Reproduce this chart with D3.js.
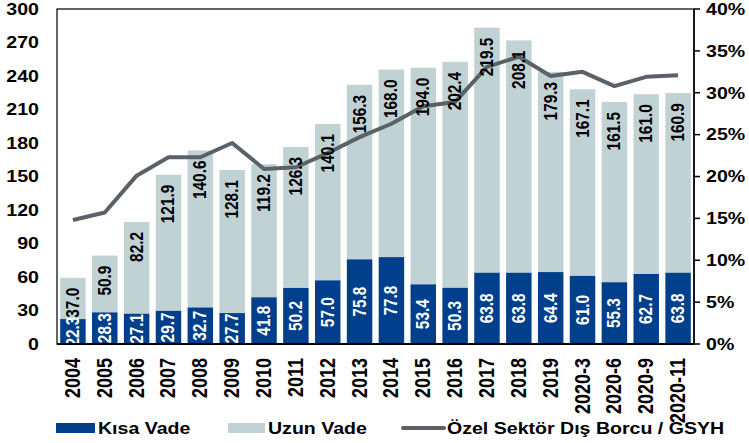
<!DOCTYPE html>
<html>
<head>
<meta charset="utf-8">
<script src="https://cdn.jsdelivr.net/npm/d3@7"></script>
<style>
  body { margin: 0; background: #fff; }
  text { font-family: Arial, "Liberation Sans", sans-serif; font-weight: bold; }
</style>
</head>
<body>
<svg id="chart"></svg>
<script>
let categories = ['2004', '2005', '2006', '2007', '2008', '2009', '2010', '2011', '2012', '2013',
    '2014', '2015', '2016', '2017', '2018', '2019', '2020-3', '2020-6', '2020-9', '2020-11']
let kisaVade = [22.3, 28.3, 27.1, 29.7, 32.7, 27.7, 41.8, 50.2, 57.0, 75.8,
    77.8, 53.4, 50.3, 63.8, 63.8, 64.4, 61.0, 55.3, 62.7, 63.8]
let uzunVade = [37.0, 50.9, 82.2, 121.9, 140.6, 128.1, 119.2, 126.3, 140.1, 156.3,
    168.0, 194.0, 202.4, 219.5, 208.1, 179.3, 167.1, 161.5, 161.0, 160.9]
let borcGsyh = [14.8, 15.7, 20.1, 22.3, 22.3, 24.0, 20.9, 21.1, 22.8, 24.7,
    26.3, 28.4, 28.9, 33.1, 34.3, 32.0, 32.5, 30.8, 31.9, 32.1]
let leftTicks = [0, 30, 60, 90, 120, 150, 180, 210, 240, 270, 300]
let rightTicks = [0, 0.05, 0.10, 0.15, 0.20, 0.25, 0.30, 0.35, 0.40]
let legendNames = ['Kısa Vade', 'Uzun Vade', 'Özel Sektör Dış Borcu / GSYH']

let width = 749,
    height = 443,
    plotLeft = 57,
    plotRight = 694,
    plotTop = 9,
    plotBottom = 344,
    stretch = 1.2

let colorKisa = '#003f8c',
    colorUzun = '#c1d2d4',
    colorLine = '#5b6168'

let $svg = d3.select('#chart')
    .attr('width', width)
    .attr('height', height)

let xScale = d3.scaleBand()
    .domain(categories)
    .range([plotLeft, plotRight])
    .paddingInner(0.2)
    .paddingOuter(0.1)

let yScale = d3.scaleLinear()
    .domain([0, 300])
    .range([plotBottom, plotTop])

let pScale = d3.scaleLinear()
    .domain([0, 0.40])
    .range([plotBottom, plotTop])

let data = categories.map((c, i) => {
    return {cat: c, kisa: kisaVade[i], uzun: uzunVade[i], pct: borcGsyh[i] / 100}
})

// frame
$svg.append('rect')
    .attr('x', plotLeft)
    .attr('y', plotTop)
    .attr('width', plotRight - plotLeft)
    .attr('height', plotBottom - plotTop)
    .attr('fill', 'none')
    .attr('stroke', '#000')
    .attr('stroke-width', 1.2)

// bars
let bw = xScale.bandwidth()
let $bars = $svg.append('g')
$bars.selectAll('rect.uzun').data(data).enter().append('rect')
    .attr('class', 'uzun')
    .attr('x', d => xScale(d.cat))
    .attr('y', d => yScale(d.kisa + d.uzun))
    .attr('width', bw)
    .attr('height', d => yScale(d.kisa) - yScale(d.kisa + d.uzun))
    .attr('fill', colorUzun)
$bars.selectAll('rect.kisa').data(data).enter().append('rect')
    .attr('class', 'kisa')
    .attr('x', d => xScale(d.cat))
    .attr('y', d => yScale(d.kisa))
    .attr('width', bw)
    .attr('height', d => yScale(0) - yScale(d.kisa))
    .attr('fill', colorKisa)

// line
let line = d3.line()
    .x(d => xScale(d.cat) + bw / 2)
    .y(d => pScale(d.pct))
$svg.append('path')
    .datum(data)
    .attr('d', line)
    .attr('fill', 'none')
    .attr('stroke', colorLine)
    .attr('stroke-width', 4)
    .attr('stroke-linejoin', 'round')

// data labels (rotated)
function rotated(x, y) {
    return 'translate(' + x + ',' + y + ') scale(' + stretch + ',1) rotate(-90)'
}
$svg.append('g').selectAll('text').data(data).enter().append('text')
    .attr('transform', d => rotated(xScale(d.cat) + bw / 2 + 6, (yScale(0) + yScale(d.kisa)) / 2))
    .attr('text-anchor', 'middle')
    .attr('font-size', 15.4)
    .attr('fill', '#fff')
    .text(d => d.kisa.toFixed(1))
$svg.append('g').selectAll('text').data(data).enter().append('text')
    .attr('transform', d => rotated(xScale(d.cat) + bw / 2 + 6, yScale(d.kisa + d.uzun) + 10))
    .attr('text-anchor', 'end')
    .attr('font-size', 15.4)
    .attr('fill', '#000')
    .text(d => d.uzun.toFixed(1))

// bottom axis line
$svg.append('line')
    .attr('x1', plotLeft).attr('x2', plotRight)
    .attr('y1', plotBottom).attr('y2', plotBottom)
    .attr('stroke', '#000').attr('stroke-width', 2)

// x labels
$svg.append('g').selectAll('text').data(categories).enter().append('text')
    .attr('transform', d => rotated(xScale(d) + bw / 2 + 7, 358))
    .attr('text-anchor', 'end')
    .attr('font-size', 18)
    .attr('fill', '#000')
    .text(d => d)

// left ticks
$svg.append('g').selectAll('text').data(leftTicks).enter().append('text')
    .attr('transform', d => 'translate(39,' + (yScale(d) + 5.8) + ') scale(' + stretch + ',1)')
    .attr('text-anchor', 'end')
    .attr('font-size', 16.3)
    .text(d => d)

// right axis
let $right = $svg.append('g')
$right.append('line')
    .attr('x1', plotRight).attr('x2', plotRight)
    .attr('y1', plotTop).attr('y2', plotBottom)
    .attr('stroke', '#000').attr('stroke-width', 1.5)
$right.selectAll('line.tick').data(rightTicks).enter().append('line')
    .attr('class', 'tick')
    .attr('x1', plotRight).attr('x2', plotRight + 6)
    .attr('y1', d => pScale(d)).attr('y2', d => pScale(d))
    .attr('stroke', '#000').attr('stroke-width', 1.5)
$right.selectAll('text').data(rightTicks).enter().append('text')
    .attr('transform', d => 'translate(706,' + (pScale(d) + 5.8) + ') scale(' + stretch + ',1)')
    .attr('font-size', 16.3)
    .text(d => d3.format('.0%')(d))

// legend
let $legend = $svg.append('g')
$legend.append('rect').attr('x', 56).attr('y', 423).attr('width', 39).attr('height', 10).attr('fill', colorKisa)
$legend.append('text').attr('transform', 'translate(98,434) scale(' + stretch + ',1)')
    .attr('font-size', 16.3).text(legendNames[0])
$legend.append('rect').attr('x', 228).attr('y', 423).attr('width', 37).attr('height', 10).attr('fill', colorUzun)
$legend.append('text').attr('transform', 'translate(268,434) scale(' + stretch + ',1)')
    .attr('font-size', 16.3).text(legendNames[1])
$legend.append('line').attr('x1', 403).attr('x2', 444).attr('y1', 428).attr('y2', 428)
    .attr('stroke', colorLine).attr('stroke-width', 4).attr('stroke-linecap', 'round')
$legend.append('text').attr('transform', 'translate(447,434) scale(' + stretch + ',1)')
    .attr('font-size', 16.3).text(legendNames[2])
</script>
</body>
</html>
